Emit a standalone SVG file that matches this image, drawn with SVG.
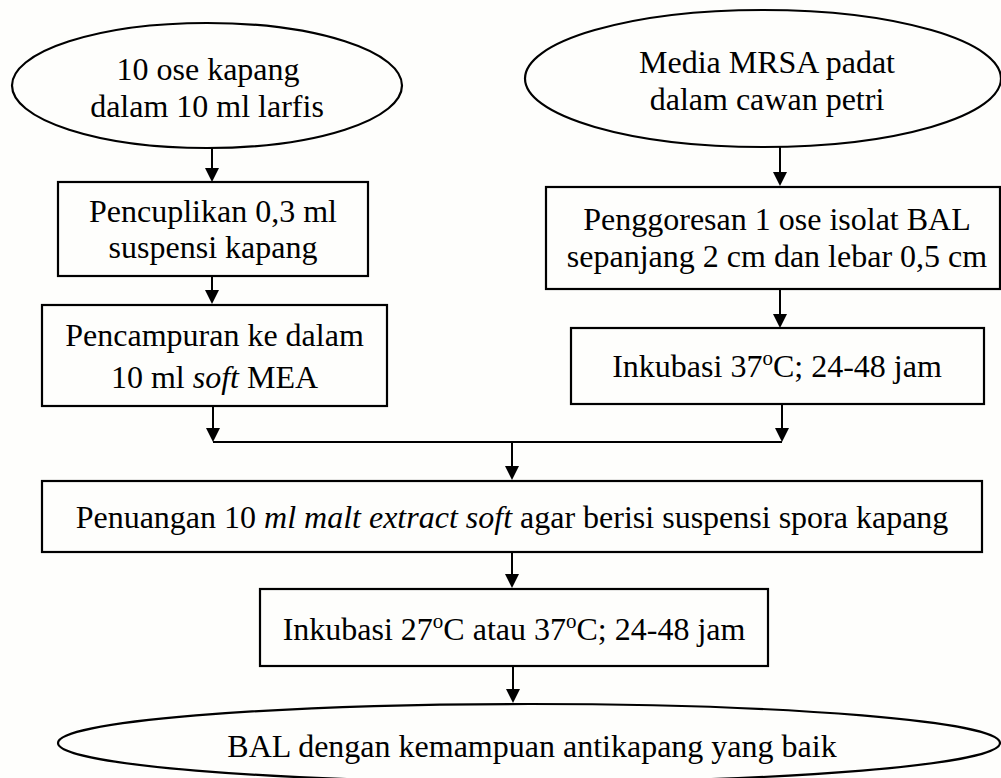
<svg xmlns="http://www.w3.org/2000/svg" width="1001" height="778" viewBox="0 0 1001 778">
  <defs>
    <style>
      .shape { fill: none; stroke: #000; stroke-width: 2.2; }
      .line { fill: none; stroke: #000; stroke-width: 2; }
      .head { fill: #000; stroke: none; }
      text { font-family: "Liberation Serif", "Times New Roman", serif; font-size: 32px; fill: #000; text-anchor: middle; }
      .it { font-style: italic; }
    </style>
  </defs>
  <rect x="0" y="0" width="1001" height="778" fill="#fefefc"/>

  <g id="connectors">
    <line class="line" x1="212" y1="148" x2="212" y2="170"/>
    <polygon class="head" points="205,168 219,168 212,182"/>
    <line class="line" x1="212" y1="276" x2="212" y2="292"/>
    <polygon class="head" points="205,290 219,290 212,304"/>
    <line class="line" x1="780" y1="147" x2="780" y2="174"/>
    <polygon class="head" points="773,172 787,172 780,186"/>
    <line class="line" x1="780" y1="289" x2="780" y2="316"/>
    <polygon class="head" points="773,314 787,314 780,328"/>
    <line class="line" x1="213" y1="406" x2="213" y2="430"/>
    <polygon class="head" points="206,428 220,428 213,442"/>
    <line class="line" x1="782" y1="404" x2="782" y2="430"/>
    <polygon class="head" points="775,428 789,428 782,442"/>
    <line class="line" x1="213" y1="442" x2="782" y2="442"/>
    <line class="line" x1="512" y1="442" x2="512" y2="468"/>
    <polygon class="head" points="505,466 519,466 512,480"/>
    <line class="line" x1="512" y1="552" x2="512" y2="576"/>
    <polygon class="head" points="505,574 519,574 512,588"/>
    <line class="line" x1="513" y1="666" x2="513" y2="691"/>
    <polygon class="head" points="506,689 520,689 513,703"/>
  </g>

  <g id="start-kapang">
    <ellipse class="shape" cx="207" cy="85.5" rx="195" ry="62.5"/>
    <text x="208" y="80">10 ose kapang</text>
    <text x="207" y="117">dalam 10 ml larfis</text>
  </g>

  <g id="start-mrsa">
    <ellipse class="shape" cx="763" cy="78.5" rx="238" ry="68.5"/>
    <text x="767" y="73">Media MRSA padat</text>
    <text x="767" y="110">dalam cawan petri</text>
  </g>

  <g id="pencuplikan">
    <rect class="shape" x="58" y="182" width="310" height="94"/>
    <text x="213" y="222">Pencuplikan 0,3 ml</text>
    <text x="213" y="258">suspensi kapang</text>
  </g>

  <g id="pencampuran">
    <rect class="shape" x="42" y="305" width="345" height="101"/>
    <text x="214.5" y="346">Pencampuran ke dalam</text>
    <text x="214.5" y="388">10 ml <tspan class="it">soft</tspan> MEA</text>
  </g>

  <g id="penggoresan">
    <rect class="shape" x="546" y="187" width="454" height="102"/>
    <text x="777" y="230">Penggoresan 1 ose isolat BAL</text>
    <text x="777" y="267">sepanjang 2 cm dan lebar 0,5 cm</text>
  </g>

  <g id="inkubasi-37">
    <rect class="shape" x="571" y="328" width="413" height="76"/>
    <text x="777" y="377">Inkubasi 37<tspan font-size="21" dy="-12">o</tspan><tspan dy="12">C; 24-48 jam</tspan></text>
  </g>

  <g id="penuangan">
    <rect class="shape" x="42" y="481" width="940" height="71"/>
    <text x="512" y="528">Penuangan 10 <tspan class="it">ml malt extract soft</tspan> agar berisi suspensi spora kapang</text>
  </g>

  <g id="inkubasi-27-37">
    <rect class="shape" x="260" y="589" width="508" height="77"/>
    <text x="514" y="640">Inkubasi 27<tspan font-size="21" dy="-12">o</tspan><tspan dy="12">C atau 37</tspan><tspan font-size="21" dy="-12">o</tspan><tspan dy="12">C; 24-48 jam</tspan></text>
  </g>

  <g id="hasil">
    <ellipse class="shape" cx="529" cy="743" rx="471" ry="39"/>
    <text x="532" y="757">BAL dengan kemampuan antikapang yang baik</text>
  </g>
</svg>
